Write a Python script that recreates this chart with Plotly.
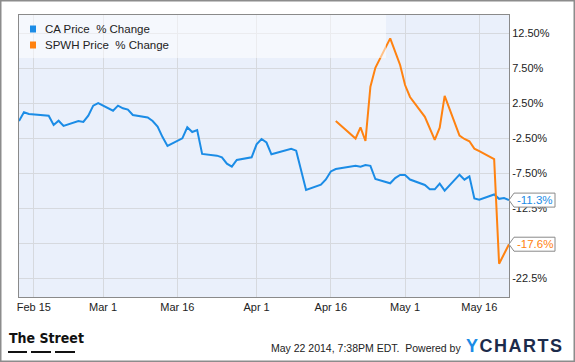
import plotly.graph_objects as go

# ---------------- data ----------------
ca_dates = [
    "2014-02-12", "2014-02-13", "2014-02-14", "2014-02-18", "2014-02-19", "2014-02-20", "2014-02-21",
    "2014-02-24", "2014-02-25", "2014-02-26", "2014-02-27", "2014-02-28",
    "2014-03-03", "2014-03-04", "2014-03-05", "2014-03-06", "2014-03-07",
    "2014-03-10", "2014-03-11", "2014-03-12", "2014-03-13", "2014-03-14",
    "2014-03-17", "2014-03-18", "2014-03-19", "2014-03-20", "2014-03-21",
    "2014-03-24", "2014-03-25", "2014-03-26", "2014-03-27", "2014-03-28",
    "2014-03-31", "2014-04-01", "2014-04-02", "2014-04-03", "2014-04-04",
    "2014-04-07", "2014-04-08", "2014-04-09", "2014-04-10", "2014-04-11",
    "2014-04-14", "2014-04-15", "2014-04-16", "2014-04-17",
    "2014-04-21", "2014-04-22", "2014-04-23", "2014-04-24", "2014-04-25",
    "2014-04-28", "2014-04-29", "2014-04-30", "2014-05-01", "2014-05-02",
    "2014-05-05", "2014-05-06", "2014-05-07", "2014-05-08", "2014-05-09",
    "2014-05-12", "2014-05-13", "2014-05-14", "2014-05-15", "2014-05-16",
    "2014-05-19", "2014-05-20", "2014-05-21", "2014-05-22",
]
ca_change = [
    0.0, 1.24, 0.99, 0.76, -0.57, 0.04, -0.71,
    0.0, -0.14, 0.76, 2.19, 2.55,
    1.47, 2.19, 1.81, 1.62, 0.86,
    0.5, 0.0, -0.81, -2.3, -3.57,
    -2.47, -0.9, -1.57, -1.29, -4.7,
    -4.95, -5.19, -6.1, -6.52, -5.57,
    -5.19, -3.33, -2.57, -3.07, -4.76,
    -4.24, -3.97, -4.24, -7.0, -9.86,
    -9.1, -8.35, -7.2, -6.86,
    -6.38, -6.52, -6.29, -6.4, -8.29,
    -8.9, -8.15, -7.71, -7.71, -8.36,
    -9.14, -9.76, -9.76, -8.95, -9.95,
    -7.67, -8.38, -7.9, -11.05, -11.24,
    -10.5, -11.12, -11.0, -11.3,
]

spwh_dates = [
    "2014-04-17", "2014-04-21", "2014-04-22", "2014-04-23", "2014-04-24", "2014-04-25",
    "2014-04-28", "2014-04-29", "2014-04-30", "2014-05-01", "2014-05-02",
    "2014-05-05", "2014-05-06", "2014-05-07", "2014-05-08", "2014-05-09",
    "2014-05-12", "2014-05-13", "2014-05-14", "2014-05-15", "2014-05-16",
    "2014-05-19", "2014-05-20", "2014-05-21", "2014-05-22",
]
spwh_change = [
    0.0, -2.5, -0.9, -2.86, 4.9, 7.6,
    11.8, 10.0, 8.0, 5.14, 3.43,
    0.6, -1.0, -2.71, -0.95, 3.6,
    -2.1, -2.57, -2.9, -3.95, -4.3,
    -5.45, -20.4, -19.0, -17.6,
]

series_names = ["CA Price\u00a0 % Change", "SPWH Price\u00a0 % Change"]
x_tickvals = ["2014-02-15", "2014-03-01", "2014-03-16", "2014-04-01", "2014-04-16", "2014-05-01", "2014-05-16"]
x_ticktext = ["Feb 15", "Mar 1", "Mar 16", "Apr 1", "Apr 16", "May 1", "May 16"]
y_tickvals = [12.5, 7.5, 2.5, -2.5, -7.5, -12.5, -17.5, -22.5]
y_ticktext = ["12.50%", "7.50%", "2.50%", "-2.50%", "-7.50%", "-12.5%", "-17.5%", "-22.5%"]
end_labels = ["-11.3%", "-17.6%"]
footer_text = "May 22 2014, 7:38PM EDT.\u00a0 Powered by"

# ---------------- style ----------------
BLUE = "#1b8ce6"
ORANGE = "#ff8210"
GRID = "#d6d9de"
BORDER = "#8a8a8a"
FONT = "Liberation Sans, Arial, sans-serif"
Y_MIN, Y_MAX = -25.14, 15.14
X_RANGE = ["2014-02-12", "2014-05-22"]

W, H = 575, 362
ML, MR, MT, MB = 19, 66, 15, 65
PW, PH = W - ML - MR, H - MT - MB


def px_x(x):
    return (x - ML) / PW


def px_y(y):
    return 1 - (y - MT) / PH


fig = go.Figure()
fig.add_trace(go.Scatter(x=ca_dates, y=ca_change, mode="lines", name=series_names[0],
                         line=dict(color=BLUE, width=2), showlegend=False, hoverinfo="skip"))
fig.add_trace(go.Scatter(x=spwh_dates, y=spwh_change, mode="lines", name=series_names[1],
                         line=dict(color=ORANGE, width=2), showlegend=False, hoverinfo="skip"))

shapes = []
annotations = []

# outer border
shapes.append(dict(type="rect", xref="paper", yref="paper",
                   x0=px_x(0.75), x1=px_x(W - 0.75), y0=px_y(H - 0.75), y1=px_y(0.75),
                   line=dict(color="#8c8c8c", width=1.5), fillcolor="rgba(0,0,0,0)", layer="below"))

# legend overlay
shapes.append(dict(type="rect", xref="paper", yref="paper",
                   x0=0, x1=px_x(386), y0=px_y(58), y1=1,
                   line=dict(width=0), fillcolor="rgba(255,255,255,0.5)", layer="above"))
legend_colors = [BLUE, ORANGE]
legend_rows_y = [29, 45]
for name, col, yy in zip(series_names, legend_colors, legend_rows_y):
    shapes.append(dict(type="rect", xref="paper", yref="paper",
                       x0=px_x(30), x1=px_x(36), y0=px_y(yy + 3.5), y1=px_y(yy - 3.5),
                       line=dict(width=0), fillcolor=col, layer="above"))
    annotations.append(dict(text=name, xref="paper", yref="paper", x=px_x(42.5), y=px_y(yy),
                            xanchor="left", yanchor="middle", showarrow=False,
                            font=dict(family=FONT, size=11.5, color="#222")))

# end labels (callouts)
end_vals = [ca_change[-1], spwh_change[-1]]
for lab, val, col in zip(end_labels, end_vals, legend_colors):
    yp = (val - Y_MIN) / (Y_MAX - Y_MIN)
    shapes.append(dict(type="path", xref="paper", yref="paper",
                       xsizemode="pixel", ysizemode="pixel", xanchor=1, yanchor=yp,
                       path="M0,0 L5,7 L46,7 L46,-7 L5,-7 Z",
                       line=dict(color=BORDER, width=1), fillcolor="white", layer="above"))
    annotations.append(dict(text=lab, xref="paper", yref="y", x=1, y=val,
                            xanchor="left", yanchor="middle", xshift=6, showarrow=False,
                            font=dict(family=FONT, size=11.5, color=col)))

# footer
annotations.append(dict(text="<b>The Street</b>", xref="paper", yref="paper",
                        x=px_x(7), y=px_y(338), xanchor="left", yanchor="middle", showarrow=False,
                        font=dict(family="DejaVu Sans Condensed, Liberation Sans Narrow, Arial Narrow, sans-serif",
                                  size=14, color="#111")))
for bx0, bx1 in [(8, 27), (31, 51), (55, 75)]:
    shapes.append(dict(type="rect", xref="paper", yref="paper",
                       x0=px_x(bx0), x1=px_x(bx1), y0=px_y(353), y1=px_y(351),
                       line=dict(width=0), fillcolor="#111"))
annotations.append(dict(text=footer_text, xref="paper", yref="paper",
                        x=px_x(269), y=px_y(348), xanchor="left", yanchor="middle", showarrow=False,
                        font=dict(family=FONT, size=10.5, color="#222")))
annotations.append(dict(text="<b><span style='color:#1b8ce6'>Y</span>\u200aC\u200aH\u200aA\u200aR\u200aT\u200aS</b>",
                        xref="paper", yref="paper",
                        x=px_x(464), y=px_y(346), xanchor="left", yanchor="middle", showarrow=False,
                        font=dict(family=FONT, size=18, color="#1c2b4b")))

fig.update_layout(
    width=W, height=H,
    margin=dict(l=ML, r=MR, t=MT, b=MB, pad=0),
    paper_bgcolor="white",
    plot_bgcolor="#eaf0fb",
    showlegend=False,
    shapes=shapes,
    annotations=annotations,
    font=dict(family=FONT, size=11, color="#222"),
)
fig.update_xaxes(type="date", range=X_RANGE, tickvals=x_tickvals, ticktext=x_ticktext,
                 showgrid=True, gridcolor=GRID, gridwidth=1, zeroline=False,
                 showline=True, linecolor=BORDER, linewidth=1, mirror=True,
                 ticks="", tickfont=dict(family=FONT, size=11, color="#222"))
fig.update_yaxes(range=[Y_MIN, Y_MAX], side="right", tickvals=y_tickvals, ticktext=y_ticktext,
                 showgrid=True, gridcolor=GRID, gridwidth=1, zeroline=False,
                 showline=True, linecolor=BORDER, linewidth=1, mirror=True,
                 ticks="", tickfont=dict(family=FONT, size=11, color="#222"))

fig.write_html("out.html", config={"displayModeBar": False},
               post_script="document.body.style.margin='0';document.body.style.overflow='hidden';")
